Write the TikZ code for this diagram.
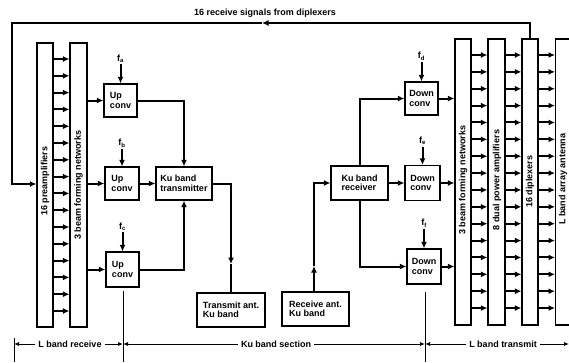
\documentclass[tikz,border=0pt]{standalone}
\usepackage{fontspec}
\setmainfont{Liberation Sans}
\usetikzlibrary{arrows.meta}
\begin{document}
\begin{tikzpicture}[x=1pt,y=-1pt,
  every node/.style={font=\bfseries\fontsize{9}{9.5}\selectfont, inner sep=0pt},
  blk/.style={draw, line width=1.3pt, align=left},
  colm/.style={draw, line width=1.2pt},
  conn/.style={line width=2pt, -{Latex[length=6.5pt,width=6pt]}},
  plainln/.style={line width=2pt},
  tick/.style={line width=0.9pt},
  dim/.style={line width=0.9pt, -{Latex[length=5pt,width=4pt]}},
  dimtxt/.style={fill=white, inner xsep=3pt},
]
\clip (0,0) rectangle (569,362);
\fill[white] (0,0) rectangle (569,362);

% ---- left columns
\node[colm, minimum width=16pt, minimum height=284pt] (pre) at (45,185) {};
\node[colm, minimum width=17pt, minimum height=284pt] (bfl) at (78.5,185) {};
\node[rotate=90] (pretxt) at (45,181) {16 preamplifiers};
\node[rotate=90] (bfltxt) at (78.5,185) {3 beam forming networks};
\foreach \i in {0,...,15}{
  \pgfmathsetmacro{\yy}{59+\i*16.8}
  \draw[conn] (pre.east |- 0,\yy) -- (bfl.west |- 0,\yy);
}

% ---- up converters and transmitter
\node[blk, minimum width=33pt, minimum height=33pt] (upa) at (120.5,100.5) {Up\\conv};
\node[blk, minimum width=34pt, minimum height=33pt] (upb) at (122,183.5) {Up\\conv};
\node[blk, minimum width=33pt, minimum height=35pt] (upc) at (122.5,269.5) {Up\\conv};
\node[blk, minimum width=56pt, minimum height=33pt] (tx) at (184,183.5) {Ku band\\transmitter};
\node[blk, minimum width=68pt, minimum height=34pt] (tant) at (231,310) {Transmit ant.\\Ku band};

\path (upa.north) ++(0,-25) node (fa) {f\textsubscript{a}};
\path (upb.north) ++(0,-23) node (fb) {f\textsubscript{b}};
\path (upc.north) ++(0,-25) node (fc) {f\textsubscript{c}};
\draw[conn, shorten <=2pt] (fa.south) -- (upa.north);
\draw[conn, shorten <=2pt] (fb.south) -- (upb.north);
\draw[conn, shorten <=2pt] (fc.south) -- (upc.north);

\draw[conn] (bfl.east |- upa.west) -- (upa.west);
\draw[conn] (bfl.east |- upb.west) -- (upb.west);
\draw[conn] (bfl.east |- upc.west) -- (upc.west);
\draw[conn] (upa.east) -| (tx.north);
\draw[conn] (upb.east) -- (tx.west);
\draw[conn] (upc.east) -| (tx.south);

\coordinate (tam) at (231,264);
\draw[conn] (tx.east) -| (tam);
\draw[plainln] (tam) -- (tant.north);

% ---- receiver and down converters
\node[blk, minimum width=67pt, minimum height=34pt] (rant) at (315.5,309) {Receive ant.\\Ku band};
\node[blk, minimum width=57pt, minimum height=34pt] (rx) at (359.5,183) {Ku band\\receiver};
\node[blk, minimum width=33pt, minimum height=33pt] (dcd) at (421.5,98.5) {Down\\conv};
\node[blk, minimum width=35pt, minimum height=35pt] (dce) at (422.5,183) {Down\\conv};
\node[blk, minimum width=34pt, minimum height=35pt] (dcf) at (424,266.5) {Down\\conv};

\path (dcd.north) ++(0,-25) node (fd) {f\textsubscript{d}};
\path (dce.north) ++(0,-24) node (fe) {f\textsubscript{e}};
\path (dcf.north) ++(0,-25) node (ff) {f\textsubscript{f}};
\draw[conn, shorten <=2pt] (fd.south) -- (dcd.north);
\draw[conn, shorten <=2pt] (fe.south) -- (dce.north);
\draw[conn, shorten <=2pt] (ff.south) -- (dcf.north);

\coordinate (ram) at (314,266);
\draw[conn] (rant.north -| ram) -- (ram);
\draw[conn] (ram) |- (rx.west);
\draw[conn] (rx.north) |- (dcd.west);
\draw[conn] (rx.east) -- (dce.west);
\draw[conn] (rx.south) |- (dcf.west);

% ---- right columns
\node[colm, minimum width=16pt, minimum height=286pt] (bfr) at (463,182) {};
\node[colm, minimum width=17pt, minimum height=286pt] (pa) at (496.5,182) {};
\node[colm, minimum width=16pt, minimum height=286pt] (dip) at (530,182) {};
\node[colm, minimum width=24pt, minimum height=286pt, anchor=west] (ant) at (555,182) {};
\node[rotate=90] (bfrtxt) at (463,180) {3 beam forming networks};
\node[rotate=90] (patxt) at (497,180) {8 dual power amplifiers};
\node[rotate=90] (diptxt) at (530,181.5) {16 diplexers};
\node[rotate=90] (anttxt) at (563,179) {L band array antenna};
\foreach \i in {0,...,15}{
  \pgfmathsetmacro{\yy}{55+\i*16.87}
  \draw[conn] (bfr.east |- 0,\yy) -- (pa.west |- 0,\yy);
  \draw[conn] (pa.east |- 0,\yy) -- (dip.west |- 0,\yy);
  \draw[conn] (dip.east |- 0,\yy) -- (ant.west |- 0,\yy);
}
\draw[conn] (dcd.east) -- (bfr.west |- dcd.east);
\draw[conn] (dce.east) -- (bfr.west |- dce.east);
\draw[conn] (dcf.east) -- (bfr.west |- dcf.east);

% ---- feedback loop from diplexers
\coordinate (tm) at (262,23);
\coordinate (tl) at (12,23);
\coordinate (pin) at (20,184);
\draw[conn] (dip.north) |- (tm);
\draw[conn] (tm) -- (tl) |- (pre.west |- pin);
\node (title) at (265,13) {16 receive signals from diplexers};

% ---- bottom dimension line
\coordinate (k1t) at (14,338); \coordinate (k1b) at (14,362);
\coordinate (k2t) at (123,291); \coordinate (k2b) at (123,362);
\coordinate (k3t) at (425,292); \coordinate (k3b) at (425,362);
\coordinate (kend) at (569,344);
\draw[tick] (k1t) -- (k1b);
\draw[tick] (k2t) -- (k2b);
\draw[tick] (k3t) -- (k3b);
\node[dimtxt] (lrx) at (70,344) {L band receive};
\node[dimtxt] (kus) at (276,344) {Ku band section};
\node[dimtxt] (ltx) at (503,344) {L band transmit};
\draw[dim] (lrx.west) -- (lrx.west -| k1t);
\draw[dim] (lrx.east) -- (lrx.east -| k2t);
\draw[dim] (kus.west) -- (kus.west -| k2t);
\draw[dim] (kus.east) -- (kus.east -| k3t);
\draw[dim] (ltx.west) -- (ltx.west -| k3t);
\draw[dim] (ltx.east) -- (kend);
\end{tikzpicture}
\end{document}
